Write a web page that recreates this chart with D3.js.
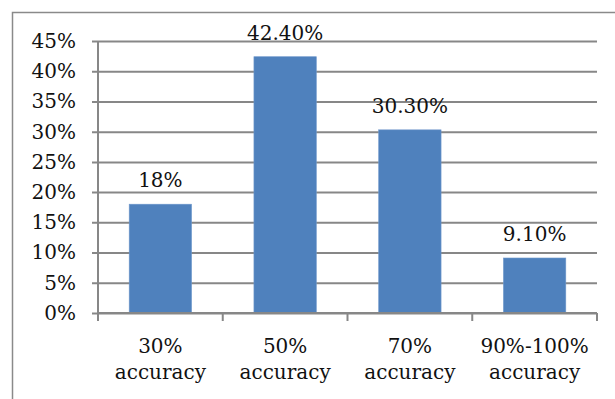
<!DOCTYPE html>
<html>
<head>
<meta charset="utf-8">
<script src="https://cdn.jsdelivr.net/npm/d3@7"></script>
<style>
  html, body { margin: 0; padding: 0; background: #fff; }
  svg { display: block; }
</style>
</head>
<body>
<svg id="chart" width="615" height="399"></svg>
<script>
// Share of results by accuracy level
const categories = [["30%", "accuracy"], ["50%", "accuracy"], ["70%", "accuracy"], ["90%-100%", "accuracy"]];
const values = [18, 42.4, 30.3, 9.1];
const valueLabels = ["18%", "42.40%", "30.30%", "9.10%"];
const yTicks = [0, 5, 10, 15, 20, 25, 30, 35, 40, 45];

const W = 615, H = 399;
const margin = { left: 98, right: 18, top: 41, bottom: 86 };
const font = "'DejaVu Serif', serif";
const fontSize = 20;
const gridColor = "#878787";

const svg = d3.select("#chart");

// chart area frame (runs past the right and bottom edges)
svg.append("rect")
  .attr("x", 12.5).attr("y", 12.5)
  .attr("width", 620).attr("height", 400)
  .attr("fill", "#fff")
  .attr("stroke", "#8a8a8a")
  .attr("stroke-width", 1.5);

const x = d3.scaleBand()
  .domain(d3.range(categories.length))
  .range([margin.left, W - margin.right])
  .paddingInner(0.5).paddingOuter(0.25);

const y = d3.scaleLinear()
  .domain([0, 45])
  .range([H - margin.bottom, margin.top]);

// horizontal gridlines with short outside ticks
const yAxis = svg.append("g")
  .attr("transform", `translate(${margin.left},0)`)
  .call(d3.axisLeft(y).tickValues(yTicks).tickFormat(d => d + "%")
    .tickSize(-(W - margin.right - margin.left)).tickSizeOuter(0).tickPadding(22));
yAxis.select(".domain").remove();
yAxis.selectAll(".tick line")
  .attr("x1", -6)
  .attr("stroke", gridColor).attr("stroke-width", 2);
yAxis.selectAll(".tick text")
  .attr("font-family", font).attr("font-size", fontSize)
  .attr("fill", "#111");

// vertical axis line
svg.append("line")
  .attr("x1", margin.left).attr("x2", margin.left)
  .attr("y1", y(45)).attr("y2", y(0))
  .attr("stroke", gridColor).attr("stroke-width", 2);

// bars
svg.append("g").selectAll("rect")
  .data(values)
  .join("rect")
  .attr("x", (d, i) => x(i))
  .attr("y", d => y(d))
  .attr("width", x.bandwidth())
  .attr("height", d => y(0) - y(d))
  .attr("fill", "#4F81BD")
  .attr("stroke", "#6f98cc")
  .attr("stroke-width", 0.6);

// value labels
svg.append("g").selectAll("text")
  .data(values)
  .join("text")
  .attr("x", (d, i) => x(i) + x.bandwidth() / 2)
  .attr("y", d => y(d) - 17)
  .attr("text-anchor", "middle")
  .attr("font-family", font).attr("font-size", fontSize)
  .attr("fill", "#111")
  .text((d, i) => valueLabels[i]);

// category axis with tick marks at band boundaries
const step = x.step();
const boundaries = d3.range(categories.length + 1).map(i => margin.left + i * step);
svg.append("line")
  .attr("x1", margin.left).attr("x2", W - margin.right)
  .attr("y1", y(0)).attr("y2", y(0))
  .attr("stroke", gridColor).attr("stroke-width", 2);
svg.append("g").selectAll("line")
  .data(boundaries)
  .join("line")
  .attr("x1", d => d).attr("x2", d => d)
  .attr("y1", y(0)).attr("y2", y(0) + 8)
  .attr("stroke", gridColor).attr("stroke-width", 2);

const catG = svg.append("g").selectAll("text")
  .data(categories)
  .join("text")
  .attr("x", (d, i) => x(i) + x.bandwidth() / 2)
  .attr("y", y(0) + 40)
  .attr("text-anchor", "middle")
  .attr("font-family", font).attr("font-size", fontSize)
  .attr("fill", "#111");
catG.selectAll("tspan")
  .data(d => d)
  .join("tspan")
  .attr("x", function () { return d3.select(this.parentNode).attr("x"); })
  .attr("dy", (d, i) => i === 0 ? 0 : 26)
  .text(d => d);
</script>
</body>
</html>
